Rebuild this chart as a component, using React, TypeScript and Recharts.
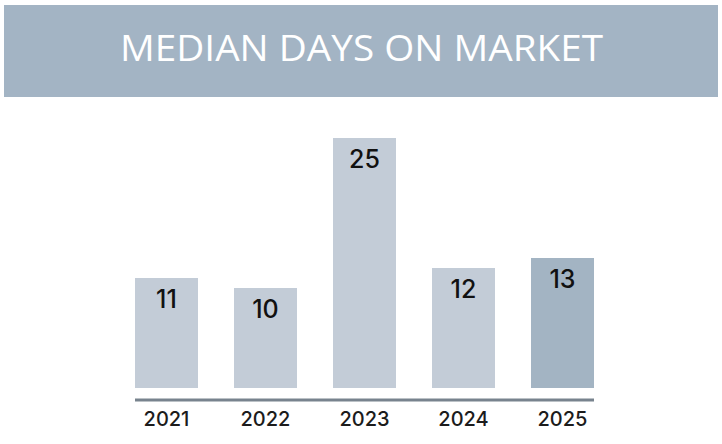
import React from 'react';
import { BarChart, Bar, XAxis, YAxis, Cell, LabelList } from 'recharts';

const years = ['2021', '2022', '2023', '2024', '2025'];
const medianDays = [11, 10, 25, 12, 13];
const highlightYear = '2025';
const title = 'MEDIAN DAYS ON MARKET';

const data = years.map((year, i) => ({ year, days: medianDays[i] }));

const FONT = 'Inter, "Open Sans", sans-serif';

const Tick = (props: any) => {
  const { x, y, payload } = props;
  return (
    <text x={x} y={y + 26} textAnchor="middle" fontSize={20} fontFamily={FONT} fontWeight={500} fill="#1c1c1c">
      {payload.value}
    </text>
  );
};

export default function App() {
  return (
    <div style={{ position: 'absolute', left: 0, top: 0, width: 722, height: 444, background: '#ffffff', overflow: 'hidden' }}>
      <div
        style={{
          position: 'absolute', left: 4, top: 5, width: 714, height: 92, background: '#a3b4c4',
          display: 'flex', alignItems: 'center', justifyContent: 'center',
        }}
      >
        <svg width={714} height={92}>
          <text x={357.5} y={55.5} textAnchor="middle" fontSize={37} fontFamily='"Open Sans", sans-serif' fontWeight={500}
            fill="#ffffff" textLength={483} lengthAdjust="spacingAndGlyphs">
            {title}
          </text>
        </svg>
      </div>
      <div style={{ position: 'absolute', left: 0, top: 0 }}>
        <BarChart width={722} height={444} data={data} margin={{ top: 118, right: 128, bottom: 0, left: 135 }}>
          <YAxis hide domain={[-1.2, 27]} type="number" allowDataOverflow />
          <XAxis
            dataKey="year"
            height={44}
            padding={{ left: -18, right: -18 }}
            axisLine={{ stroke: '#78838e', strokeWidth: 3 }}
            tickLine={false}
            tickSize={0}
            tickMargin={0}
            tick={<Tick />}
            interval={0}
          />
          <Bar dataKey="days" barSize={63} isAnimationActive={false}>
            {data.map((d) => (
              <Cell key={d.year} fill={d.year === highlightYear ? '#a3b4c3' : '#c3ccd7'} />
            ))}
            <LabelList dataKey="days" position="insideTop" offset={12} fontSize={25} fontFamily={FONT} fontWeight={500} fill="#111111" />
          </Bar>
        </BarChart>
      </div>
    </div>
  );
}
